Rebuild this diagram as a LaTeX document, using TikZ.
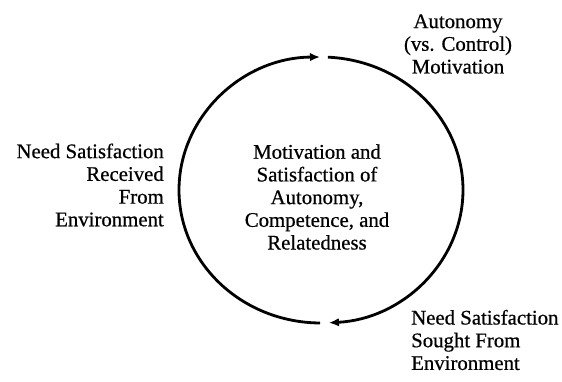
\documentclass[tikz,border=0pt]{standalone}
\usepackage{fontspec}
\setmainfont{Liberation Serif}
\newfontfamily\labelfont[FakeBold=0.6]{Liberation Serif}
\usetikzlibrary{arrows.meta,calc}
\begin{document}
\begin{tikzpicture}[x=1pt,y=1pt,
  label text/.style={font=\labelfont\fontsize{20.8}{22.7}\selectfont, inner sep=0pt},
  cycle arc/.style={line width=2.8pt, -{Latex[length=10pt,width=8.5pt]}}]
  \useasboundingbox (0,0) rectangle (562,-381);
  % centre of the cycle
  \coordinate (c) at (321,-190);
  % the two halves of the cycle, each ending in an arrow
  \coordinate (leftstart) at ($(c)+(269.6:142 and 133)$);
  \coordinate (rightstart) at ($(c)+(87.2:142 and 133)$);
  \draw[cycle arc] (leftstart) arc[start angle=269.6, end angle=90.4, x radius=142, y radius=133];
  \draw[cycle arc] (rightstart) arc[start angle=87.2, end angle=-86.8, x radius=142, y radius=133];
  % texts
  \node[label text, align=center] (core) at (317,-197)
    {Motivation and\\Satisfaction of\\Autonomy,\\Competence, and\\Relatedness};
  \node[label text, align=center] (auto) at (458,-44)
    {Autonomy\\(vs. Control)\\Motivation};
  \node[label text, align=right, anchor=east] (received) at (164,-185)
    {Need Satisfaction\\Received\\From\\Environment};
  \node[label text, align=left, anchor=west] (sought) at (411,-340)
    {Need Satisfaction\\Sought From\\Environment};
\end{tikzpicture}
\end{document}
